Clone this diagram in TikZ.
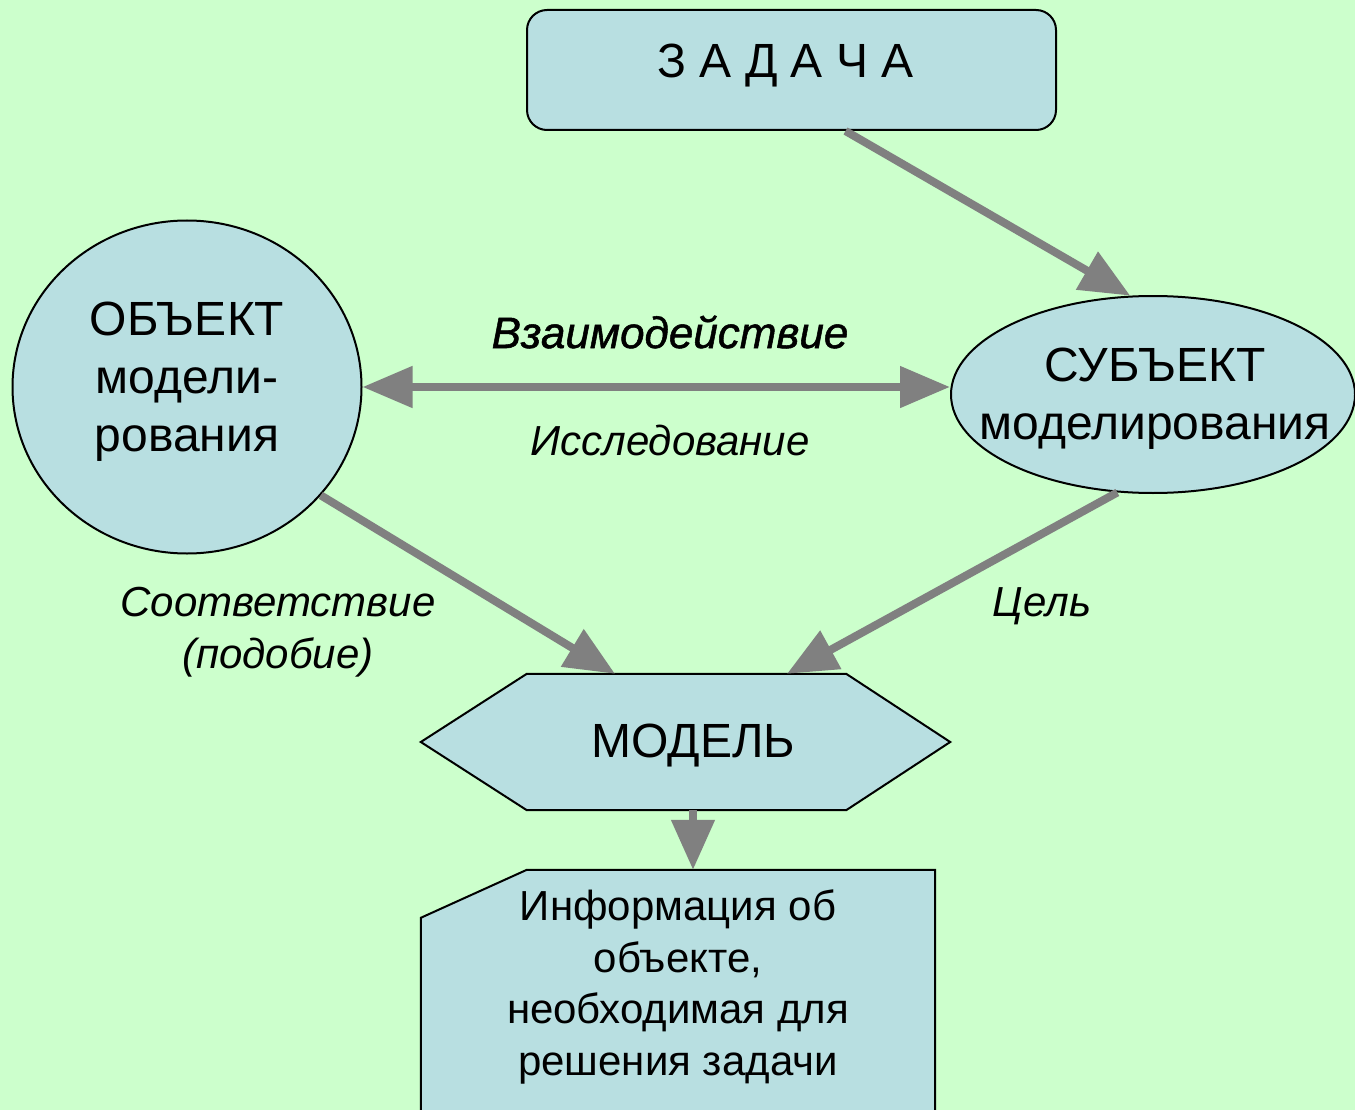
\documentclass[tikz,border=0pt]{standalone}
\usepackage{fontspec}
\setmainfont{Liberation Sans}
\newfontfamily\emfont[FakeBold=1.2]{Liberation Sans}
\usetikzlibrary{arrows.meta,shapes.geometric,calc}
\definecolor{bg}{HTML}{CCFFCC}
\definecolor{boxfill}{HTML}{B8DFE1}
\definecolor{arr}{HTML}{808080}
\begin{document}
\begin{tikzpicture}[x=1pt,y=-1pt,
  shapebox/.style={draw=black,line width=2pt,fill=boxfill},
  conn/.style={draw=arr,line width=8pt,-{Triangle[length=50pt,width=42pt]}},
  dconn/.style={draw=arr,line width=8pt,{Triangle[length=50pt,width=40pt]}-{Triangle[length=50pt,width=40pt]}},
  big/.style={font=\fontsize{48}{58}\selectfont,align=center},
  lab/.style={font=\fontsize{42}{52}\selectfont\itshape,align=center},
  info/.style={font=\fontsize{42}{51.7}\selectfont,align=center}
 ]
\fill[bg] (0,0) rectangle (1355,1110);
\useasboundingbox (0,0) rectangle (1355,1110);

% shapes
\node[shapebox,rounded corners=20pt,minimum width=529pt,minimum height=120pt,inner sep=0pt] (task) at (791.5,70) {};
\node[big] (tasktext) at ([xshift=-6pt,yshift=4pt]task.center) {З А Д А Ч А};

\node[shapebox,ellipse,minimum width=349pt,minimum height=333pt,inner sep=0pt] (obj) at (187,387) {};
\node[big] (objtext) at ([yshift=5pt]obj.center) {ОБЪЕКТ\\модели-\\рования};

\node[shapebox,ellipse,minimum width=404pt,minimum height=197pt,inner sep=0pt] (sub) at (1153,394.5) {};
\node[big] (subtext) at ([xshift=2pt,yshift=-4pt]sub.center) {СУБЪЕКТ\\моделирования};

\node[minimum width=529pt,minimum height=136pt,inner sep=0pt] (model) at (685.5,742) {};
\path[shapebox] (model.west) -- ($(model.north west)+(106,0)$) -- ($(model.north east)+(-104,0)$)
  -- (model.east) -- ($(model.south east)+(-104,0)$) -- ($(model.south west)+(106,0)$) -- cycle;
\node[big] (modeltext) at ([xshift=8pt,yshift=-4pt]model.center) {МОДЕЛЬ};

\node[minimum width=514pt,minimum height=226pt,inner sep=0pt] (info) at (678,983) {};
\path[shapebox] ($(info.north west)+(0,48)$) -- ($(info.north west)+(106,0)$) -- (info.north east)
  -- ($(info.north east)+(0,280)$) -- ($(info.north west)+(0,280)$) -- cycle;
\node[info] (infotext) at ([yshift=-4pt]info.center) {Информация об\\объекте,\\необходимая для\\решения задачи};

% connectors
\draw[conn] ($(task.south)+(54,0)$) -- (sub.103);
\draw[dconn] (obj.east) -- (obj.east -| sub.west);
\draw[conn] (obj.-39) -- ($(model.north)+(-70.5,0)$);
\draw[conn] (sub.-110) -- ($(model.north)+(101.5,0)$);
\draw[conn] ($(model.south)+(7.5,0)$) -- ($(info.north)+(15,0)$);

% labels
\node[lab,font=\fontsize{44}{52}\emfont\itshape] (l1) at (670,332) {Взаимодействие};
\node[lab] (l2) at (670,440) {Исследование};
\node[lab] (l3) at (278,632) {Соответствие\\(подобие)};
\node[lab] (l4) at (1042,606) {Цель};
\end{tikzpicture}
\end{document}
